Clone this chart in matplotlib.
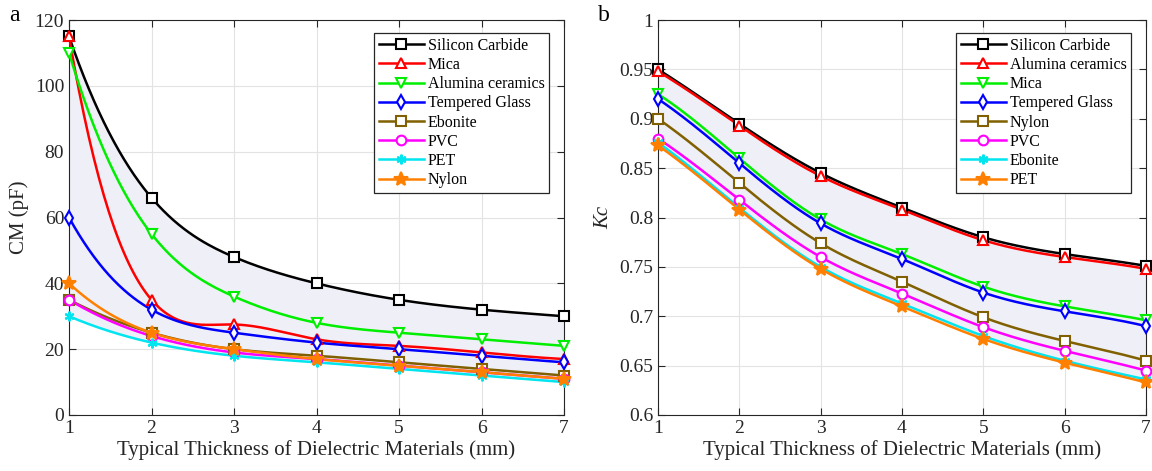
import numpy as np
import matplotlib
matplotlib.use("Agg")
import matplotlib.pyplot as plt

plt.rcParams['font.family'] = ['Liberation Serif', 'DejaVu Serif']
plt.rcParams['mathtext.fontset'] = 'stix'

thickness = [1, 2, 3, 4, 5, 6, 7]

# panel a: CM (pF)
labels_a = ["Silicon Carbide", "Mica", "Alumina ceramics", "Tempered Glass",
            "Ebonite", "PVC", "PET", "Nylon"]
cm_sic = [115, 66, 48, 40, 35, 32, 30]
cm_mica = [115, 35, 27.5, 23, 21, 19, 17]
cm_alumina = [110, 55, 36, 28, 25, 23, 21]
cm_glass = [60, 32, 25, 22, 20, 18, 16]
cm_ebonite = [35, 25, 20, 18, 16, 14, 12]
cm_pvc = [35, 24, 19, 17, 15, 13, 11]
cm_pet = [30, 22, 18, 16, 14, 12, 10]
cm_nylon = [40, 25, 20, 17, 15, 13, 11]

# panel b: Kc
labels_b = ["Silicon Carbide", "Alumina ceramics", "Mica", "Tempered Glass",
            "Nylon", "PVC", "Ebonite", "PET"]
kc_sic = [0.950, 0.895, 0.845, 0.810, 0.780, 0.763, 0.751]
kc_alumina = [0.948, 0.893, 0.842, 0.808, 0.777, 0.760, 0.748]
kc_mica = [0.925, 0.860, 0.798, 0.763, 0.730, 0.710, 0.696]
kc_glass = [0.920, 0.855, 0.794, 0.758, 0.724, 0.705, 0.690]
kc_nylon = [0.900, 0.835, 0.774, 0.735, 0.699, 0.675, 0.655]
kc_pvc = [0.880, 0.818, 0.760, 0.723, 0.689, 0.665, 0.645]
kc_ebonite = [0.876, 0.810, 0.750, 0.713, 0.680, 0.655, 0.636]
kc_pet = [0.873, 0.808, 0.748, 0.710, 0.677, 0.653, 0.633]

colors = ["black", "#ff0000", "#00ee00", "#0000ff", "#806000", "#ff00ff", "#00e5ee", "#ff8000"]
markers = ["s", "^", "v", "d", "s", "o", (6, 2, 0), "*"]


def spline(x, y, n=200):
    # not-a-knot cubic spline (like matlab's spline), only for drawing the smooth lines
    x = np.asarray(x, float)
    y = np.asarray(y, float)
    k = len(x)
    h = np.diff(x)
    A = np.zeros((k, k))
    r = np.zeros(k)
    A[0, 0:3] = [h[1], -(h[0] + h[1]), h[0]]
    A[-1, -3:] = [h[-1], -(h[-2] + h[-1]), h[-2]]
    for i in range(1, k - 1):
        A[i, i - 1] = h[i - 1]
        A[i, i] = 2 * (h[i - 1] + h[i])
        A[i, i + 1] = h[i]
        r[i] = 3 * ((y[i + 1] - y[i]) / h[i] - (y[i] - y[i - 1]) / h[i - 1])
    c = np.linalg.solve(A, r)
    xs = np.linspace(x[0], x[-1], n)
    idx = np.clip(np.searchsorted(x, xs) - 1, 0, k - 2)
    dx = xs - x[idx]
    b = (y[1:] - y[:-1]) / h - h * (2 * c[:-1] + c[1:]) / 3
    d = (c[1:] - c[:-1]) / (3 * h)
    ys = y[idx] + b[idx] * dx + c[idx] * dx ** 2 + d[idx] * dx ** 3
    return xs, ys


def draw(ax, series, labels, top, bottom):
    xs, yt = spline(thickness, top)
    _, yb = spline(thickness, bottom)
    ax.fill_between(xs, yb, yt, color="#efeff7", lw=0, zorder=1)
    for ys, lab, c, m in zip(series, labels, colors, markers):
        sx, sy = spline(thickness, ys)
        ax.plot(sx, sy, color=c, lw=1.8, zorder=3)
        filled = m in ["*", (6, 2, 0)]
        ms = 7 if m != "*" else 10
        ax.plot(thickness, ys, ls="none", marker=m, ms=ms,
                mec=c, mfc=c if filled else "white", mew=1.5, zorder=4, clip_on=False)
        ax.plot([], [], color=c, lw=1.8, marker=m, ms=ms,
                mec=c, mfc=c if filled else "white", mew=1.5, label=lab)
    ax.set_xlim(1, 7)
    ax.set_xticks(thickness)
    ax.grid(True, color="#e3e3e3", lw=0.8)
    ax.set_axisbelow(True)
    ax.tick_params(direction="in", top=True, right=True, labelsize=14,
                   length=5, color="#262626", labelcolor="#262626")
    for s in ax.spines.values():
        s.set_color("#262626")
        s.set_linewidth(0.8)
    ax.set_xlabel("Typical Thickness of Dielectric Materials (mm)", fontsize=15,
                  color="#262626", labelpad=2)
    leg = ax.legend(loc="upper right", fontsize=11.5, handlelength=2.8, fancybox=False,
                    framealpha=1, edgecolor="#262626", borderpad=0.3, labelspacing=0.2,
                    handletextpad=0.25, borderaxespad=0, bbox_to_anchor=(0.97, 0.967))
    leg.get_frame().set_linewidth(0.9)


fig = plt.figure(figsize=(11.52, 4.71), dpi=100)
ax1 = fig.add_axes([0.0599, 0.1189, 0.4297, 0.8386])
ax2 = fig.add_axes([0.5712, 0.1189, 0.4235, 0.8386])

draw(ax1, [cm_sic, cm_mica, cm_alumina, cm_glass, cm_ebonite, cm_pvc, cm_pet, cm_nylon],
     labels_a, cm_sic, cm_pet)
ax1.set_ylim(0, 120)
ax1.set_yticks([0, 20, 40, 60, 80, 100, 120])
ax1.set_ylabel("CM (pF)", fontsize=15, color="#262626", labelpad=4)

draw(ax2, [kc_sic, kc_alumina, kc_mica, kc_glass, kc_nylon, kc_pvc, kc_ebonite, kc_pet],
     labels_b, kc_sic, kc_pet)
ax2.set_ylim(0.6, 1.0)
ax2.set_yticks([0.6, 0.65, 0.7, 0.75, 0.8, 0.85, 0.9, 0.95, 1.0])
ax2.set_yticklabels(["0.6", "0.65", "0.7", "0.75", "0.8", "0.85", "0.9", "0.95", "1"])
ax2.set_ylabel("Kc", fontsize=15, style="italic", color="#262626", labelpad=4)

fig.text(0.008, 0.955, "a", fontsize=17)
fig.text(0.519, 0.955, "b", fontsize=17)

fig.savefig("out.png", dpi=100)
